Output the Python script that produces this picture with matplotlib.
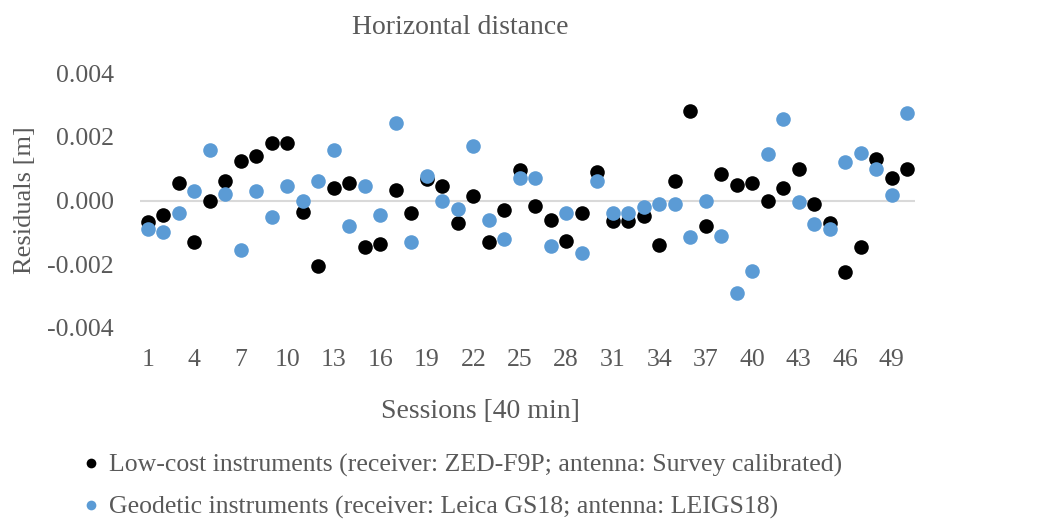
import matplotlib
matplotlib.use("Agg")
import matplotlib.pyplot as plt
from matplotlib.lines import Line2D

sessions = list(range(1, 51))
low_cost = [-0.00066, -0.00044, 0.00056, -0.0013, 0.0, 0.0006, 0.00125, 0.0014, 0.0018, 0.0018,
            -0.00035, -0.00206, 0.0004, 0.00056, -0.00147, -0.00135, 0.00034, -0.0004, 0.00066, 0.00047,
            -0.0007, 0.00013, -0.0013, -0.0003, 0.00097, -0.00016, -0.0006, -0.00128, -0.00038, 0.0009,
            -0.00063, -0.00063, -0.0005, -0.0014, 0.0006, 0.0028, -0.0008, 0.00084, 0.0005, 0.00056,
            0.0, 0.0004, 0.001, -0.0001, -0.0007, -0.00225, -0.00147, 0.0013, 0.0007, 0.001]
geodetic = [-0.00088, -0.001, -0.00038, 0.0003, 0.0016, 0.0002, -0.00156, 0.0003, -0.00053, 0.00047,
            0.0, 0.0006, 0.0016, -0.0008, 0.00047, -0.00047, 0.00244, -0.0013, 0.00078, -0.00003,
            -0.00028, 0.0017, -0.0006, -0.0012, 0.0007, 0.00072, -0.00144, -0.00038, -0.00166, 0.0006,
            -0.0004, -0.0004, -0.0002, -0.0001, -0.0001, -0.00113, -0.00003, -0.0011, -0.0029, -0.0022,
            0.00147, 0.00256, -0.00006, -0.00075, -0.0009, 0.0012, 0.0015, 0.001, 0.00016, 0.00275]
x_ticks = list(range(1, 51, 3))
y_ticks = [-0.004, -0.002, 0.0, 0.002, 0.004]
y_tick_labels = ["-0.004", "-0.002", "0.000", "0.002", "0.004"]

title = "Horizontal distance"
x_label = "Sessions [40 min]"
y_label = "Residuals [m]"
label_low = "Low-cost instruments (receiver: ZED-F9P; antenna: Survey calibrated)"
label_geo = "Geodetic instruments (receiver: Leica GS18; antenna: LEIGS18)"

plt.rcParams['font.family'] = ['Liberation Serif', 'DejaVu Serif']
TXT = '#595959'
BLACK = '#000000'
BLUE = '#5B9BD5'

fig = plt.figure(figsize=(10.5, 5.2), dpi=100)
ax = fig.add_axes([140/1050, 1-328/520, (915-140)/1050, (328-73)/520])

ax.axhline(0, color='#D9D9D9', lw=1.5, zorder=1)
ax.scatter(sessions, low_cost, s=110, color=BLACK, zorder=3, linewidths=0)
ax.scatter(sessions, geodetic, s=110, color=BLUE, zorder=3, linewidths=0)

ax.set_xlim(0.5, 50.5)
ax.set_ylim(-0.004, 0.004)
ax.set_xticks(x_ticks)
ax.set_xticklabels([str(t) for t in x_ticks])
ax.set_yticks(y_ticks)
ax.set_yticklabels(y_tick_labels)
for s in ax.spines.values():
    s.set_visible(False)
ax.tick_params(axis='both', length=0, labelsize=18.5, colors=TXT)
ax.tick_params(axis='x', pad=15)
ax.tick_params(axis='y', pad=19)

fig.text(460/1050, 1-27/520, title, ha='center', va='center', fontsize=20, color=TXT)
fig.text(480/1050, 1-411/520, x_label, ha='center', va='center', fontsize=20, color=TXT)
fig.text(25/1050, 1-200/520, y_label, ha='center', va='center', rotation=90, fontsize=19, color=TXT)

handles = [Line2D([], [], marker='o', ls='', color=BLACK, markersize=7, markeredgewidth=0),
           Line2D([], [], marker='o', ls='', color=BLUE, markersize=7, markeredgewidth=0)]
leg = fig.legend(handles, [label_low, label_geo], loc='upper left',
                 bbox_to_anchor=(70/1050, 1-441/520), frameon=False, fontsize=18.5,
                 handlelength=0.6, handletextpad=0.4, labelspacing=0.72, borderpad=0)
for t in leg.get_texts():
    t.set_color(TXT)

fig.savefig("out.png", dpi=100)
